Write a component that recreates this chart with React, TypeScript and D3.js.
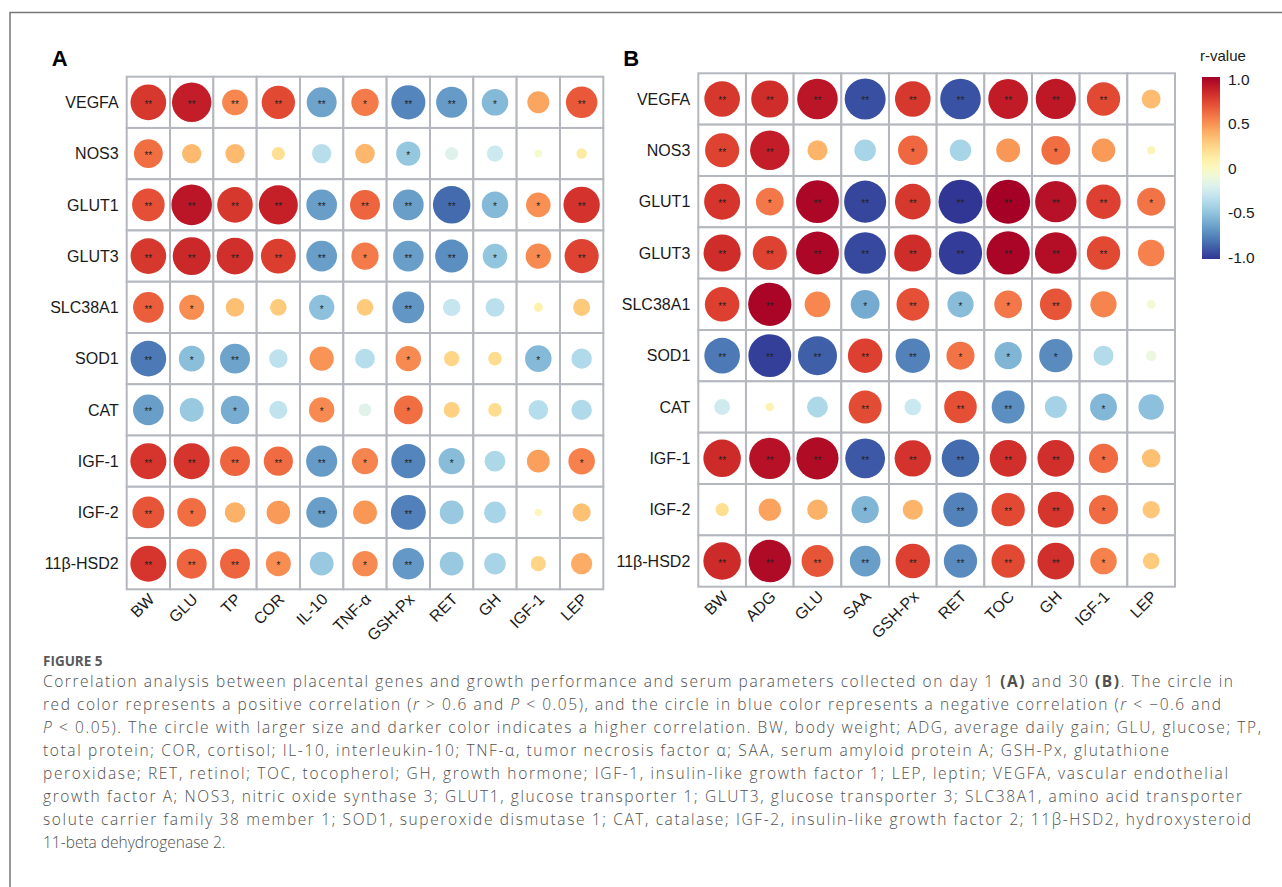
import * as d3 from 'd3';

// panel A (day 1)
const rowsA = ['VEGFA', 'NOS3', 'GLUT1', 'GLUT3', 'SLC38A1', 'SOD1', 'CAT', 'IGF-1', 'IGF-2', '11β-HSD2'];
const colsA = ['BW', 'GLU', 'TP', 'COR', 'IL-10', 'TNF-α', 'GSH-Px', 'RET', 'GH', 'IGF-1', 'LEP'];
const rA = [
  [0.78, 0.88, 0.52, 0.72, -0.63, 0.56, -0.74, -0.66, -0.54, 0.42, 0.67],
  [0.60, 0.35, 0.35, 0.19, -0.35, 0.36, -0.48, -0.19, -0.27, -0.05, 0.12],
  [0.70, 0.91, 0.78, 0.87, -0.65, 0.63, -0.65, -0.83, -0.54, 0.49, 0.80],
  [0.78, 0.84, 0.81, 0.76, -0.65, 0.56, -0.65, -0.71, -0.49, 0.51, 0.74],
  [0.65, 0.50, 0.33, 0.28, -0.51, 0.28, -0.68, -0.30, -0.34, 0.08, 0.29],
  [-0.78, -0.52, -0.63, -0.33, 0.48, -0.36, 0.51, 0.24, 0.20, -0.54, -0.38],
  [-0.65, -0.47, -0.59, -0.32, 0.51, -0.18, 0.60, 0.26, 0.20, -0.36, -0.38],
  [0.79, 0.79, 0.63, 0.61, -0.66, 0.53, -0.74, -0.53, -0.39, 0.44, 0.54],
  [0.68, 0.60, 0.38, 0.46, -0.65, 0.47, -0.76, -0.47, -0.41, 0.03, 0.32],
  [0.79, 0.63, 0.63, 0.50, -0.47, 0.51, -0.67, -0.47, -0.41, 0.24, 0.40],
];
const sigA = [
  ['**', '**', '**', '**', '**', '*', '**', '**', '*', '', '**'],
  ['**', '', '', '', '', '', '*', '', '', '', ''],
  ['**', '**', '**', '**', '**', '**', '**', '**', '*', '*', '**'],
  ['**', '**', '**', '**', '**', '*', '**', '**', '*', '*', '**'],
  ['**', '*', '', '', '*', '', '**', '', '', '', ''],
  ['**', '*', '**', '', '', '', '*', '', '', '*', ''],
  ['**', '', '*', '', '*', '', '*', '', '', '', ''],
  ['**', '**', '**', '**', '**', '*', '**', '*', '', '', '*'],
  ['**', '*', '', '', '**', '', '**', '', '', '', ''],
  ['**', '**', '**', '*', '', '*', '**', '', '', '', ''],
];

// panel B (day 30)
const rowsB = rowsA;
const colsB = ['BW', 'ADG', 'GLU', 'SAA', 'GSH-Px', 'RET', 'TOC', 'GH', 'IGF-1', 'LEP'];
const rB = [
  [0.78, 0.82, 0.91, -0.92, 0.78, -0.91, 0.89, 0.90, 0.72, 0.34],
  [0.74, 0.88, 0.37, -0.41, 0.62, -0.41, 0.47, 0.60, 0.46, 0.05],
  [0.79, 0.57, 0.97, -0.95, 0.78, -1.0, 1.0, 0.93, 0.75, 0.58],
  [0.82, 0.74, 0.97, -0.94, 0.82, -0.98, 0.98, 0.94, 0.72, 0.54],
  [0.75, 0.98, 0.52, -0.60, 0.70, -0.53, 0.57, 0.68, 0.53, -0.08],
  [-0.78, -0.97, -0.87, 0.75, -0.75, 0.58, -0.56, -0.72, -0.37, -0.12],
  [-0.26, 0.06, -0.39, 0.71, -0.28, 0.70, -0.71, -0.42, -0.55, -0.51],
  [0.83, 0.93, 0.95, -0.89, 0.80, -0.83, 0.81, 0.81, 0.61, 0.33],
  [0.19, 0.43, 0.38, -0.56, 0.37, -0.75, 0.72, 0.79, 0.61, 0.30],
  [0.83, 0.96, 0.68, -0.65, 0.75, -0.72, 0.72, 0.81, 0.54, 0.28],
];
const sigB = [
  ['**', '**', '**', '**', '**', '**', '**', '**', '**', ''],
  ['**', '**', '', '', '*', '', '', '*', '', ''],
  ['**', '*', '**', '**', '**', '**', '**', '**', '**', '*'],
  ['**', '**', '**', '**', '**', '**', '**', '**', '**', ''],
  ['**', '**', '', '*', '**', '*', '*', '**', '', ''],
  ['**', '**', '**', '**', '**', '*', '*', '*', '', ''],
  ['', '', '', '**', '', '**', '**', '', '*', ''],
  ['**', '**', '**', '**', '**', '**', '**', '**', '*', ''],
  ['', '', '', '*', '', '**', '**', '**', '*', ''],
  ['**', '**', '**', '**', '**', '**', '**', '**', '*', ''],
];

const legendTicks = [1, 0.5, 0, -0.5, -1];

const captionLines = [
  'Correlation analysis between placental genes and growth performance and serum parameters collected on day 1 |(A)| and 30 |(B)|. The circle in',
  'red color represents a positive correlation (_r_ > 0.6 and _P_ < 0.05), and the circle in blue color represents a negative correlation (_r_ < −0.6 and',
  '_P_ < 0.05). The circle with larger size and darker color indicates a higher correlation. BW, body weight; ADG, average daily gain; GLU, glucose; TP,',
  'total protein; COR, cortisol; IL-10, interleukin-10; TNF-α, tumor necrosis factor α; SAA, serum amyloid protein A; GSH-Px, glutathione',
  'peroxidase; RET, retinol; TOC, tocopherol; GH, growth hormone; IGF-1, insulin-like growth factor 1; LEP, leptin; VEGFA, vascular endothelial',
  'growth factor A; NOS3, nitric oxide synthase 3; GLUT1, glucose transporter 1; GLUT3, glucose transporter 3; SLC38A1, amino acid transporter',
  'solute carrier family 38 member 1; SOD1, superoxide dismutase 1; CAT, catalase; IGF-2, insulin-like growth factor 2; 11β-HSD2, hydroxysteroid',
  '11-beta dehydrogenase 2.',
];
const captionEnds = [1233, 1221, 1261, 1169, 1228, 1242, 1251, 0];

const color = (r: number) => d3.interpolateRdYlBu((1 - r) / 2);
const diam = d3.scaleLinear().domain([0, 1]).range([6, 44]);
const axisFont = '"Liberation Sans", Arial, sans-serif';
const capFont = '"Open Sans", Lato, sans-serif';

function Panel({ rows, cols, vals, sig, x0, x1, y0, y1, label }: any) {
  const x = d3.scaleBand().domain(cols).range([x0, x1]);
  const y = d3.scaleBand().domain(rows).range([y0, y1]);
  const bw = x.bandwidth();
  const bh = y.bandwidth();
  return (
    <g fontFamily={axisFont}>
      <text x={x0 - 75} y={66} fontSize={22} fontWeight="bold" fill="#000">{label}</text>
      {rows.map((rn: string, i: number) =>
        cols.map((cn: string, j: number) => {
          const cx = x(cn)! + bw / 2;
          const cy = y(rn)! + bh / 2;
          const v = vals[i][j];
          return (
            <g key={rn + cn}>
              <rect x={x(cn)} y={y(rn)} width={bw} height={bh} fill="#fff" stroke="#b4b8be" strokeWidth={2} />
              <circle cx={cx} cy={cy} r={diam(Math.abs(v)) / 2} fill={color(v)} />
              {sig[i][j] && (
                <text x={cx} y={cy + 5.5} fontSize={10} textAnchor="middle" fill="#222">{sig[i][j]}</text>
              )}
            </g>
          );
        })
      )}
      {rows.map((rn: string) => (
        <text key={rn} x={x0 - 8} y={y(rn)! + bh / 2 + 5.8} fontSize={16} textAnchor="end" fill="#1a1a1a">{rn}</text>
      ))}
      {cols.map((cn: string) => {
        const ax = x(cn)! + bw / 2 + 7;
        const ay = y1 + 11;
        return (
          <text key={cn} x={ax} y={ay} fontSize={16} textAnchor="end" fill="#1a1a1a"
            transform={`rotate(-45,${ax},${ay})`}>{cn}</text>
        );
      })}
    </g>
  );
}

function CaptionLine({ line, y, end }: any) {
  const parts = line.split(/(\|[^|]*\||_[^_]*_)/).filter((p: string) => p.length);
  const extra: any = end ? { textLength: end - 43, lengthAdjust: 'spacing' } : {};
  return (
    <text x={43} y={y} fontSize={15.5} fontWeight={300} fill="#4f4f4f" fontFamily={capFont} {...extra}>
      {parts.map((p: string, k: number) => {
        if (p.startsWith('|')) return <tspan key={k} fontWeight="bold">{p.slice(1, -1)}</tspan>;
        if (p.startsWith('_')) return <tspan key={k} fontStyle="italic">{p.slice(1, -1)}</tspan>;
        return <tspan key={k}>{p}</tspan>;
      })}
    </text>
  );
}

export default function App() {
  const ly = d3.scaleLinear().domain([-1, 1]).range([257, 79]);
  const stops = d3.range(0, 1.0001, 0.05);
  return (
    <svg width={1282} height={887} style={{ position: 'absolute', left: 0, top: 0, background: '#fff' }}>
      <rect x={10} y={12.5} width={1300} height={900} fill="none" stroke="#777" strokeWidth={1.5} />
      <Panel rows={rowsA} cols={colsA} vals={rA} sig={sigA} x0={126.7} x1={603.3} y0={76.7} y1={589.3} label="A" />
      <Panel rows={rowsB} cols={colsB} vals={rB} sig={sigB} x0={698.3} x1={1175} y0={73.3} y1={586.7} label="B" />

      <defs>
        <linearGradient id="rgrad" x1="0" y1="0" x2="0" y2="1">
          {stops.map((t) => (
            <stop key={t} offset={t} stopColor={d3.interpolateRdYlBu(t)} />
          ))}
        </linearGradient>
      </defs>
      <g fontFamily={axisFont}>
        <text x={1200} y={61} fontSize={15} fill="#1a1a1a">r-value</text>
        <rect x={1202} y={ly(1) - 2} width={18} height={ly(-1) - ly(1) + 4} fill="url(#rgrad)" />
        {legendTicks.map((t) => (
          <text key={t} x={1228} y={ly(t) + 5.5} fontSize={15.5} fill="#1a1a1a">
            {t === 0 ? '0' : t.toFixed(1)}
          </text>
        ))}
      </g>

      <text x={43} y={666} fontSize={13.5} fontWeight="bold" fill="#5a5a5a" fontFamily={capFont}>FIGURE 5</text>
      {captionLines.map((l, i) => (
        <CaptionLine key={i} line={l} y={687 + i * 23} end={captionEnds[i]} />
      ))}
    </svg>
  );
}
